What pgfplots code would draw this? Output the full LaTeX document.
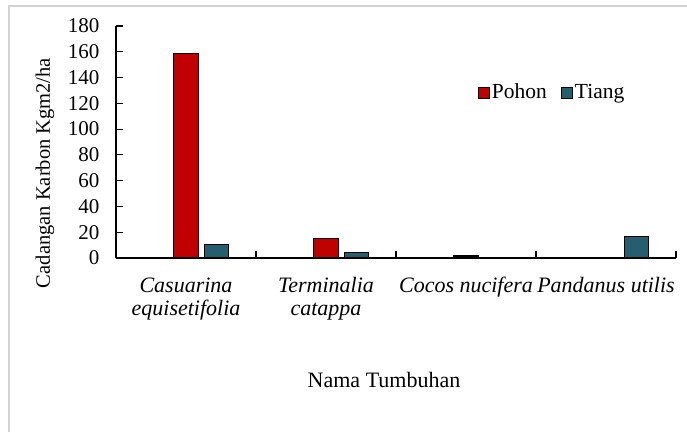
\documentclass[border=0pt]{standalone}
\usepackage{pgfplots}
\pgfplotsset{compat=1.18}
\usepackage{fontspec}
\setmainfont{Liberation Serif}
\definecolor{pohon}{RGB}{192,0,0}
\definecolor{tiang}{RGB}{37,94,110}
\definecolor{frame}{RGB}{210,210,210}
\begin{document}
\fontsize{22}{25}\selectfont
\begin{tikzpicture}[x=1pt,y=1pt]
\path[use as bounding box] (0,0) rectangle (687,432);
\draw[frame, line width=2pt] (9,0) -- (9,426) -- (687,426);
\begin{axis}[
  at={(116pt,174pt)}, anchor=origin,
  scale only axis, width=560pt, height=232pt,
  xmin=0, xmax=4, ymin=0, ymax=180,
  axis x line*=bottom, axis y line*=left,
  axis line style={-, black, line width=1.4pt},
  xtick={0,1,2,3,4}, xticklabels={},
  ytick={0,20,...,180},
  tick align=inside, major tick length=7pt,
  tick style={black, line width=1.2pt},
  /pgf/number format/assume math mode=true,
  yticklabel style={font=\fontsize{21}{24}\selectfont, xshift=-9pt},
  legend style={at={(0.64,0.711)}, anchor=west, draw=none, fill=none,
    font=\fontsize{21.5}{24}\selectfont, legend columns=2,
    /tikz/every even column/.append style={column sep=12pt}},
  legend image code/.code={\draw[#1, draw=black, line width=1.2pt] (0pt,-5.5pt) rectangle (11pt,5.5pt);},
  clip=false,
]
\addplot[ybar, bar width=24.5pt, bar shift=0pt, fill=pohon, draw=black, line width=1.2pt]
  coordinates {(0.5,158.8) (1.5,15.3) (2.5,1.5)};
\addplot[ybar, bar width=24.5pt, bar shift=30.5pt, fill=tiang, draw=black, line width=1.2pt]
  coordinates {(0.5,10.3) (1.5,4.1) (3.5,16.5)};
\legend{Pohon, Tiang}
\node[anchor=base, yshift=-34pt, font=\itshape] at (axis cs:0.5,0) {Casuarina};
\node[anchor=base, yshift=-57pt, font=\itshape] at (axis cs:0.5,0) {equisetifolia};
\node[anchor=base, yshift=-34pt, font=\itshape] at (axis cs:1.5,0) {Terminalia};
\node[anchor=base, yshift=-57pt, font=\itshape] at (axis cs:1.5,0) {catappa};
\node[anchor=base, yshift=-34pt, font=\itshape] at (axis cs:2.5,0) {Cocos nucifera};
\node[anchor=base, yshift=-34pt, font=\itshape] at (axis cs:3.5,0) {Pandanus utilis};
\end{axis}
\node[anchor=base] at (384,45) {Nama Tumbuhan};
\node[rotate=90, font=\fontsize{20.5}{24}\selectfont] at (45,259) {Cadangan Karbon Kgm2/ha};
\end{tikzpicture}
\end{document}
